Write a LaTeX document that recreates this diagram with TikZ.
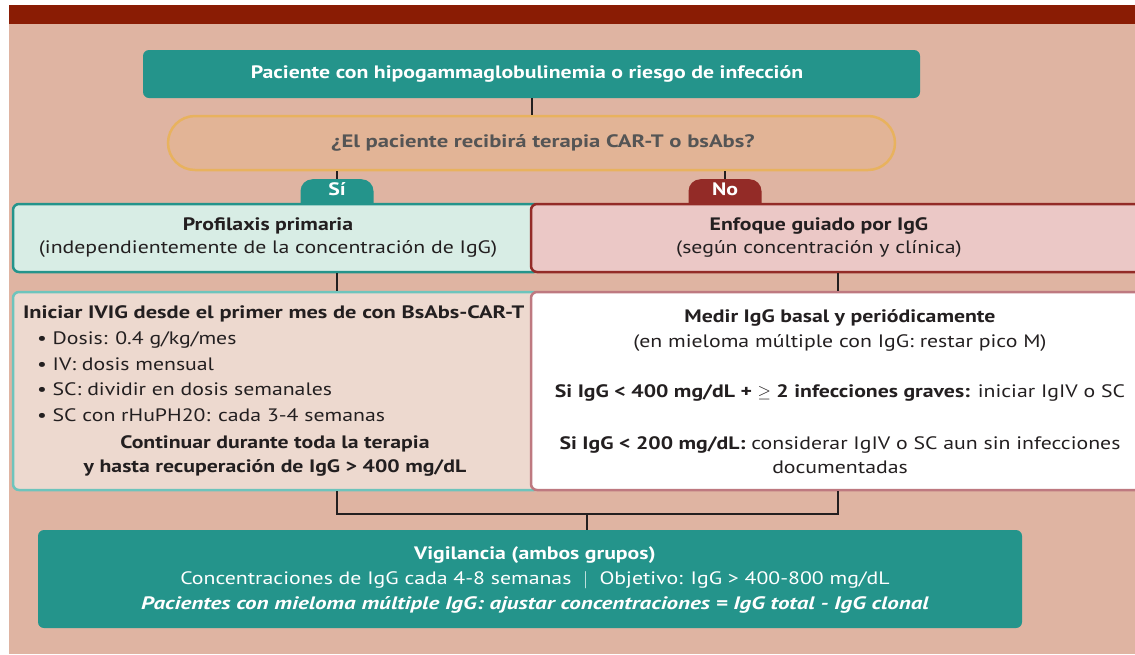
\documentclass[tikz,border=0pt]{standalone}
\usepackage{fontspec}
\setmainfont{PT Sans}[FakeStretch = 1.21]
\usepackage{tikz}

\definecolor{backdrop}{HTML}{DFB4A2}
\definecolor{banner}{HTML}{8A1C04}
\definecolor{tealc}{HTML}{24948B}
\definecolor{nored}{HTML}{932B27}
\definecolor{qfill}{HTML}{E2B496}
\definecolor{qborder}{HTML}{E8B25E}
\definecolor{qtext}{HTML}{555555}
\definecolor{mint}{HTML}{D8EDE5}
\definecolor{rose}{HTML}{EBC8C6}
\definecolor{sand}{HTML}{EDD9CF}
\definecolor{aqua}{HTML}{6EC4BC}
\definecolor{mauve}{HTML}{BE7980}
\definecolor{ink}{HTML}{231F20}

\newcommand{\bodysize}{\fontsize{18}{25}\selectfont}

\tikzset{
	every node/.style = {font = \bodysize, text = ink},
	box/.style = {draw, rounded corners = 6pt, line width = 2.5pt, inner sep = 0pt},
	teal box/.style = {fill = tealc, rounded corners = 6pt, inner sep = 0pt},
	tag/.style = {rounded corners = 12pt, minimum width = 73pt, inner ysep = 3pt,
		text height = 13pt, text depth = 19pt, text = white, font = \bodysize\bfseries},
	link/.style = {draw = ink, line width = 2pt}
}

\begin{document}
\begin{tikzpicture}[x = 1pt, y = -1pt]
	\useasboundingbox (0,0) rectangle (1135,654);
	% backdrop
	\fill [white] (0,0) rectangle (1135,654);
	\fill [backdrop] (9,24) rectangle (1135,654);
	\fill [banner] (9,5) rectangle (1135,24);

	\node [teal box, minimum width = 777pt, minimum height = 48pt] (start) at (531.5, 74) {};
	\node [text = white, font = \bodysize\bfseries] (starttxt) at (527, 74)
		{Paciente con hipogammaglobulinemia o riesgo de infección};

	\node [box, rounded corners = 27pt, draw = qborder, fill = qfill,
		minimum width = 727pt, minimum height = 54pt] (question) at (531.5, 143) {};
	\node [text = qtext, font = \bodysize\bfseries] (questiontxt) at (543, 143)
		{\scalebox{1.04}[1]{¿El paciente recibirá terapia CAR-T o bsAbs?}};

	\node [tag, fill = tealc, anchor = north] (si) at (337, 179) {Sí};
	\node [tag, fill = nored, anchor = north] (no) at (725, 179) {No};

	% first row
	\node [box, draw = tealc, fill = mint, minimum width = 527pt, minimum height = 68pt]
		(profilaxis) at (276.5, 238) {};
	\node [align = center] (profilaxistxt) at (268, 238)
		{\textbf{Profilaxis primaria}\\[-2pt](independientemente de la concentración de IgG)};
	\node [box, draw = nored, fill = rose, minimum width = 614pt, minimum height = 68pt]
		(enfoque) at (838, 238) {};
	\node [align = center] (enfoquetxt) at (819, 238)
		{\textbf{Enfoque guiado por IgG}\\[-2pt](según concentración y clínica)};

	% second row
	\node [box, draw = aqua, fill = sand, minimum width = 527pt, minimum height = 198pt]
		(iniciar) at (276.5, 391) {};
	\node [align = left, anchor = north west] (iniciartxt) at (19.5, 302)
		{\scalebox{1.03}[1]{\textbf{Iniciar IVIG desde el primer mes de con BsAbs-CAR-T}}\\[1.5pt]
		\hspace*{14pt}\textbullet\ Dosis: 0.4 g/kg/mes\\[0.5pt]
		\hspace*{14pt}\textbullet\ IV: dosis mensual\\[0.5pt]
		\hspace*{14pt}\textbullet\ SC: dividir en dosis semanales\\[0.5pt]
		\hspace*{14pt}\textbullet\ SC con rHuPH20: cada 3-4 semanas};
	\node [align = center, font = \bodysize\bfseries] (continuartxt) at (275, 456)
		{Continuar durante toda la terapia\\[-1pt]y hasta recuperación de IgG > 400 mg/dL};
	\node [box, draw = mauve, fill = white, minimum width = 614pt, minimum height = 198pt]
		(medir) at (838, 391) {};
	\node [align = center] (medirtxt) at (840, 392)
		{\textbf{Medir IgG basal y periódicamente}\\
		(en mieloma múltiple con IgG: restar pico M)\\[25pt]
		\textbf{Si IgG < 400 mg/dL + $\geq$ 2 infecciones graves:} iniciar IgIV o SC\\[27pt]
		\textbf{Si IgG < 200 mg/dL:} considerar IgIV o SC aun sin infecciones\\[-1pt]
		documentadas};

	% surveillance
	\node [teal box, minimum width = 984pt, minimum height = 98pt] (vigilancia) at (530, 579) {};
	\node [align = center, text = white] (vigilanciatxt) at (535, 579.5)
		{\textbf{Vigilancia (ambos grupos)}\\
		Concentraciones de IgG cada 4-8 semanas \ $|$ \ Objetivo: IgG > 400-800 mg/dL\\
		\scalebox{1.058}[1]{\textbf{\itshape Pacientes con mieloma múltiple IgG: ajustar concentraciones = IgG total - IgG clonal}}};

	\coordinate (join) at (587, 514);
	\draw [link] (start) -- (question);
	\draw [link] (question.south -| si) -- (si);
	\draw [link] (question.south -| no) -- (no);
	\draw [link] (si |- profilaxis.south) -- (si |- iniciar.north);
	\draw [link] (enfoque.south) -- (medir.north);
	\draw [link] (si |- iniciar.south) |- (join) -| (medir.south);
	\draw [link] (join) -- (join |- vigilancia.north);
\end{tikzpicture}
\end{document}
